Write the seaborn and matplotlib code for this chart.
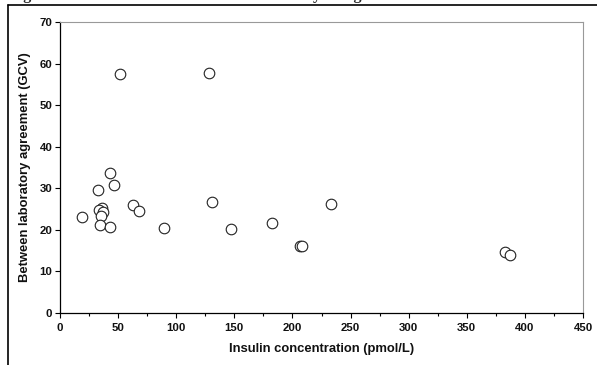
import matplotlib
matplotlib.use("Agg")
import matplotlib.pyplot as plt
import seaborn as sns
import pandas as pd
from matplotlib.ticker import MultipleLocator
from matplotlib.lines import Line2D

insulin = [18.7, 32.5, 42.8, 46.5, 35.9, 33.9, 36.8, 35.1, 34.8, 43.4, 63.2, 67.8, 89.1,
           130.7, 147.1, 51.7, 128.4, 182.8, 233.0, 206.3, 208.6, 382.8, 387.3]
gcv = [23.1, 29.5, 33.7, 30.9, 25.2, 24.8, 24.4, 23.4, 21.2, 20.7, 26.0, 24.6, 20.5,
       26.8, 20.2, 57.5, 57.8, 21.7, 26.1, 16.2, 16.2, 14.6, 13.9]
x_label = "Insulin concentration (pmol/L)"
y_label = "Between laboratory agreement (GCV)"
title = "Figure 3. Insulin CV at each level obtained by using"

df = pd.DataFrame({"insulin": insulin, "gcv": gcv})

sns.set_theme(style="white")
plt.rcParams["font.family"] = ["Liberation Sans", "DejaVu Sans"]

fig = plt.figure(figsize=(5.97, 3.65), dpi=100)
ax = fig.add_axes([60/597, (365-313)/365, (583-60)/597, (313-22)/365])

sns.scatterplot(data=df, x="insulin", y="gcv", ax=ax, s=58, facecolor="white",
                edgecolor="#222222", linewidth=0.8, zorder=3)

ax.set_xlim(0, 450)
ax.set_ylim(0, 70)
ax.xaxis.set_major_locator(MultipleLocator(50))
ax.xaxis.set_minor_locator(MultipleLocator(25))
ax.yaxis.set_major_locator(MultipleLocator(10))
ax.tick_params(axis="both", which="major", direction="out", length=3.5, width=0.8,
               color="black", labelsize=8.2, bottom=True, left=True)
ax.tick_params(axis="x", which="major", pad=4)
ax.tick_params(axis="y", which="major", pad=2)
ax.tick_params(axis="x", which="minor", direction="out", length=2.5, width=0.8,
               color="black", bottom=True)
for lab in ax.get_xticklabels() + ax.get_yticklabels():
    lab.set_fontweight("bold")
    lab.set_color("#111111")
ax.set_xlabel(x_label, fontsize=9.4, fontweight="bold", color="#111111")
ax.set_ylabel(y_label, fontsize=9.4, fontweight="bold", color="#111111")
ax.xaxis.set_label_coords(0.5, (313 - 343) / 291)
ax.yaxis.set_label_coords((31 - 60) / 523, 0.5)

for side in ["left", "bottom"]:
    ax.spines[side].set_color("black")
    ax.spines[side].set_linewidth(0.9)
for side in ["top", "right"]:
    ax.spines[side].set_color("#999999")
    ax.spines[side].set_linewidth(0.8)

# border lines of the surrounding frame
fig.add_artist(Line2D([8/597, 1.0], [1 - 5/365, 1 - 5/365], transform=fig.transFigure,
                      color="black", linewidth=1.2))
fig.add_artist(Line2D([8/597, 8/597], [0, 1 - 5/365], transform=fig.transFigure,
                      color="black", linewidth=1.2))
# clipped caption above the frame
fig.text(9/597, 1 + 1/365, title, fontsize=11.5, fontweight="bold",
         family=["Liberation Serif", "DejaVu Serif"], va="baseline", ha="left")

fig.savefig("out.png", dpi=100)
